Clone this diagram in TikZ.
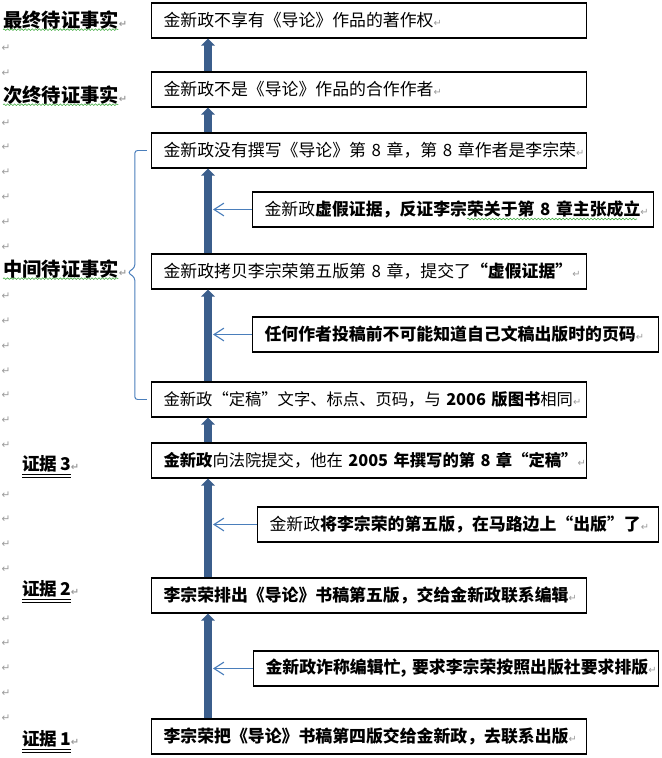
\documentclass[tikz,border=0pt]{standalone}
\usepackage{fontspec}
\setmainfont{Noto Sans CJK SC}[WordSpace=0.65]
\newfontfamily\dejavu{DejaVu Sans}
\usepackage{xcolor}
\usetikzlibrary{arrows.meta, positioning, calc, decorations.pathmorphing}
\definecolor{cArrow}{HTML}{3B5E8C}
\definecolor{cHint}{HTML}{4A7EBB}
\definecolor{cPmk}{HTML}{9A9A9A}
\definecolor{cSpell}{HTML}{3DAA3D}
\newcommand{\pmk}{{\dejavu\color{cPmk}\fontsize{7}{7}\selectfont ↵}}

\begin{document}
\begin{tikzpicture}[
  x=0.025cm, y=-0.025cm,
  fact/.style={draw, line width=0.8pt, anchor=west, minimum height=0.875cm, inner xsep=0.3cm, inner ysep=0pt, text width=10.275cm, align=left, font=\fontsize{12}{14}\selectfont},
  reason/.style={fact, text width=#1},
  lefttag/.style={anchor=west, inner sep=0pt, font=\fontsize{13.7}{16}\selectfont\bfseries},
  evtag/.style={anchor=west, inner sep=0pt, font=\fontsize{12.5}{15}\selectfont\bfseries},
  pmark/.style={inner sep=0pt, font=\dejavu\fontsize{7.5}{7.5}\selectfont, text=cPmk},
  arr/.style={-{Triangle[length=5pt, width=9.5pt]}, line width=5.3pt, draw=cArrow},
  hint/.style={-{Straight Barb[length=7pt, width=9pt]}, line width=0.8pt, draw=cHint},
  brace/.style={draw=cHint, line width=0.7pt, rounded corners=2pt},
  spell/.style={draw=cSpell, line width=0.4pt, decorate, decoration={snake, amplitude=0.6pt, segment length=2.5pt}}
]
\useasboundingbox (0,0) rectangle (662,758);

% facts to be proven, top to bottom
\node[fact] (f1) at (151,20.5)  {金新政不享有《导论》作品的著作权\pmk};
\node[fact] (f2) at (151,89.5)  {金新政不是《导论》作品的合作作者\pmk};
\node[fact] (f3) at (151,150.5) {金新政没有撰写《导论》第~8~章，第~8~章作者是李宗荣\pmk};
\node[fact] (f4) at (151,271.5) {金新政拷贝李宗荣第五版第~8~章，提交了{\bfseries “虚假证据”}\pmk};
\node[fact, font=\fontsize{11.6}{14}\selectfont] (f5) at (151,399.5) {金新政“定稿”文字、标点、页码，与~{\bfseries 2006~版图书}相同\pmk};
\node[fact, font=\fontsize{11.6}{14}\selectfont] (f6) at (151,460.5) {{\bfseries 金新政}向法院提交，他在~{\bfseries 2005~年撰写的第~8~章“定稿”}\pmk};
\node[fact] (f7) at (151,595.5) {{\bfseries 李宗荣排出《导论》书稿第五版，交给金新政联系编辑}\pmk};
\node[fact] (f8) at (151,736.5) {{\bfseries 李宗荣把《导论》书稿第四版交给金新政，去联系出版}\pmk};

% reasons on the right
\node[reason=9.425cm] (r1) at (252,209.5) {金新政{\bfseries 虚假证据，反证李宗荣关于第~8~章主张成立}\pmk};
\node[reason=9.55cm]  (r2) at (252,334.5) {{\bfseries 任何作者投稿前不可能知道自己文稿出版时的页码}\pmk};
\node[reason=9.425cm] (r3) at (257,524.5) {金新政{\bfseries 将李宗荣的第五版，在马路边上“出版”了}\pmk};
\node[reason=9.525cm] (r4) at (253,668.5) {{\bfseries 金新政诈称编辑忙,~要求李宗荣按照出版社要求排版}\pmk};
\draw[spell] (467,219) -- (637,219);

% tags on the left
\node[lefttag] (t1) at (3,20)  {最终待证事实\pmk};
\node[lefttag] (t2) at (3,95)  {次终待证事实\pmk};
\node[lefttag] (t3) at (3,269) {中间待证事实\pmk};
\foreach \t in {t1,t2,t3}
  \draw[spell] (\t.south west) -- ($(\t.south east)+(-9,0)$);
\node[evtag] (e3) at (22,467) {\underline{\underline{证据~3}}\pmk};
\node[evtag] (e2) at (22,592) {\underline{\underline{证据~2}}\pmk};
\node[evtag] (e1) at (22,742) {\underline{\underline{证据~1}}\pmk};
\foreach \k in {1,2,4,5,...,9,11,12,...,17,19,20,21,22,24,25,...,28}
  \node[pmark] (p\k) at (6,{23.5+24.8*\k}) {↵};

% main chain
\coordinate (ax) at (208,0);
\foreach \lo/\hi in {f2/f1, f3/f2, f4/f3, f5/f4, f6/f5, f7/f6, f8/f7}
  \draw[arr] (\lo.north -| ax) -- (\hi.south -| ax);

% reasons point at the chain
\coordinate (tx) at (213,0);
\foreach \r in {r1,r2,r3,r4}
  \draw[hint] (\r.west) -- (\r.west -| tx);

% bracket of the middle facts
\draw[brace] ([xshift=-3pt]f3.west) -- ++(-12,0) -- ++(0,117) -- ++(-7,5) -- ++(7,5)
  -- ($([xshift=-3pt]f5.west)+(-12,0)$) -- ([xshift=-3pt]f5.west);
\end{tikzpicture}
\end{document}
